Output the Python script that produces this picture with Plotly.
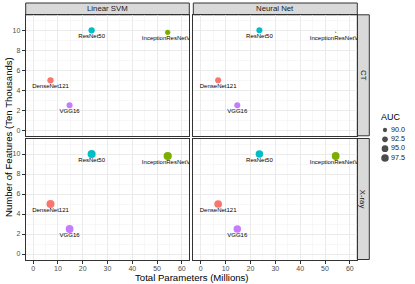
import plotly.graph_objects as go

# ---------------- data ----------------
models = ["DenseNet121", "InceptionResNetV2", "ResNet50", "VGG16"]
params_millions = [7.0, 54.3, 23.6, 14.7]
features_ten_thousands = [5.0, 9.8, 10.0, 2.5]
model_colors = ["#F8766D", "#7CAE00", "#00BFC4", "#C77CFF"]

classifiers = ["Linear SVM", "Neural Net"]
modalities = ["CT", "X-ray"]

auc_ct_svm = [94.0, 91.6, 94.0, 93.3]
auc_ct_nn = [93.3, 88.0, 93.3, 93.3]
auc_xray_svm = [99.0, 99.8, 99.0, 98.3]
auc_xray_nn = [98.0, 98.3, 97.3, 97.3]

auc_legend_breaks = [90.0, 92.5, 95.0, 97.5]

x_ticks = [0, 10, 20, 30, 40, 50, 60]
y_ticks = [0, 2, 4, 6, 8, 10]

# ---------------- helpers ----------------
W, H = 415, 284
FONT = "Liberation Sans, Arial, sans-serif"


def auc_to_size(a):
    return 1.5 + 6.8 * max(0.0, (a - 88.0) / 12.0) ** 0.5


def fx(p):
    return p / W


def fy(p):
    return 1 - p / H


# panel pixel boxes
col_x = [(25.7, 189.3), (193.3, 357.3)]
row_y = [(14.8, 135.8), (138.5, 259.5)]
strip_top = (3.0, 14.8)
strip_right = (357.3, 369.3)

panel_auc = {
    (0, 0): auc_ct_svm,
    (0, 1): auc_ct_nn,
    (1, 0): auc_xray_svm,
    (1, 1): auc_xray_nn,
}

fig = go.Figure()
layout = {}
axis_idx = 0
for r in range(2):
    for c in range(2):
        axis_idx += 1
        sfx = "" if axis_idx == 1 else str(axis_idx)
        xa, ya = "x" + sfx, "y" + sfx
        aucs = panel_auc[(r, c)]
        fig.add_trace(go.Scatter(
            x=params_millions, y=features_ten_thousands, mode="markers",
            marker=dict(size=[auc_to_size(a) for a in aucs], color=model_colors,
                        line=dict(width=0), opacity=1),
            xaxis=xa, yaxis=ya, showlegend=False, hoverinfo="skip"))
        fig.add_trace(go.Scatter(
            x=params_millions, y=[v - 0.65 for v in features_ten_thousands],
            mode="text", text=models, textposition="middle center",
            textfont=dict(size=6.0, color="#000000", family=FONT),
            xaxis=xa, yaxis=ya, showlegend=False, hoverinfo="skip"))
        x0, x1 = col_x[c]
        y0, y1 = row_y[r]
        common = dict(showline=True, linecolor="#333333", linewidth=1, mirror=True,
                      zeroline=False, showgrid=True, gridcolor="#EBEBEB", gridwidth=1,
                      tickfont=dict(size=7.0, color="#4D4D4D", family=FONT),
                      ticklen=3, tickcolor="#333333", tickwidth=1)
        layout["xaxis" + sfx] = dict(
            domain=[fx(x0), fx(x1)], range=[-3, 63], anchor=ya,
            tickmode="array", tickvals=x_ticks, ticktext=[str(t) for t in x_ticks],
            minor=dict(tickmode="array", tickvals=[5, 15, 25, 35, 45, 55],
                       showgrid=True, gridcolor="#F2F2F2", gridwidth=0.6, ticks=""),
            ticks="outside" if r == 1 else "", showticklabels=(r == 1),
            ticklabelstandoff=-1, **common)
        layout["yaxis" + sfx] = dict(
            domain=[fy(y1), fy(y0)], range=[-0.55, 11.55], anchor=xa,
            tickmode="array", tickvals=y_ticks, ticktext=[str(t) for t in y_ticks],
            minor=dict(tickmode="array", tickvals=[1, 3, 5, 7, 9, 11],
                       showgrid=True, gridcolor="#F2F2F2", gridwidth=0.6, ticks=""),
            ticks="outside" if c == 0 else "", showticklabels=(c == 0), **common)

# legend as its own small axis
fig.add_trace(go.Scatter(
    x=[13] * len(auc_legend_breaks), y=auc_legend_breaks, mode="markers",
    marker=dict(size=[auc_to_size(a) for a in auc_legend_breaks], color="#000000",
                line=dict(width=0)),
    xaxis="x5", yaxis="y5", showlegend=False, hoverinfo="skip", cliponaxis=False))
fig.add_trace(go.Scatter(
    x=[19] * len(auc_legend_breaks), y=auc_legend_breaks, mode="text",
    text=[f"{v:.1f}" for v in auc_legend_breaks], textposition="middle right",
    textfont=dict(size=7.2, color="#1A1A1A", family=FONT),
    xaxis="x5", yaxis="y5", showlegend=False, hoverinfo="skip", cliponaxis=False))
layout["xaxis5"] = dict(domain=[fx(372), fx(415)], range=[0, 43], anchor="y5",
                        visible=False, fixedrange=True)
layout["yaxis5"] = dict(domain=[fy(168), fy(120)], range=[100.18, 87.32], anchor="x5",
                        visible=False, fixedrange=True)

shapes = []
annotations = []
for c, name in enumerate(classifiers):
    x0, x1 = col_x[c]
    shapes.append(dict(type="rect", xref="paper", yref="paper",
                       x0=fx(x0), x1=fx(x1), y0=fy(strip_top[1]), y1=fy(strip_top[0]),
                       fillcolor="#D9D9D9", line=dict(color="#333333", width=1), layer="below"))
    annotations.append(dict(text=name, xref="paper", yref="paper",
                            x=fx((x0 + x1) / 2), y=fy((strip_top[0] + strip_top[1]) / 2),
                            showarrow=False, xanchor="center", yanchor="middle",
                            font=dict(size=7.8, color="#1A1A1A", family=FONT)))
for r, name in enumerate(modalities):
    y0, y1 = row_y[r]
    shapes.append(dict(type="rect", xref="paper", yref="paper",
                       x0=fx(strip_right[0]), x1=fx(strip_right[1]), y0=fy(y1), y1=fy(y0),
                       fillcolor="#D9D9D9", line=dict(color="#333333", width=1), layer="below"))
    annotations.append(dict(text=name, xref="paper", yref="paper",
                            x=fx((strip_right[0] + strip_right[1]) / 2), y=fy((y0 + y1) / 2),
                            showarrow=False, xanchor="center", yanchor="middle", textangle=90,
                            font=dict(size=7.8, color="#1A1A1A", family=FONT)))

annotations.append(dict(text="Total Parameters (Millions)", xref="paper", yref="paper",
                        x=fx(191.5), y=fy(277), showarrow=False, xanchor="center",
                        yanchor="middle", font=dict(size=9.6, color="#000000", family=FONT)))
annotations.append(dict(text="Number of Features (Ten Thousands)", xref="paper", yref="paper",
                        x=fx(8), y=fy(137), showarrow=False, xanchor="center",
                        yanchor="middle", textangle=-90,
                        font=dict(size=9.6, color="#000000", family=FONT)))
annotations.append(dict(text="AUC", xref="paper", yref="paper",
                        x=fx(379), y=fy(117), showarrow=False, xanchor="left",
                        yanchor="middle", font=dict(size=9, color="#000000", family=FONT)))

fig.update_layout(
    width=W, height=H, margin=dict(l=0, r=0, t=0, b=0),
    paper_bgcolor="white", plot_bgcolor="white",
    shapes=shapes, annotations=annotations, showlegend=False,
    font=dict(family=FONT), **layout)

fig.write_html("out.html", config={"displayModeBar": False, "staticPlot": True},
               post_script="document.body.style.margin='0';document.body.style.overflow='hidden';")
